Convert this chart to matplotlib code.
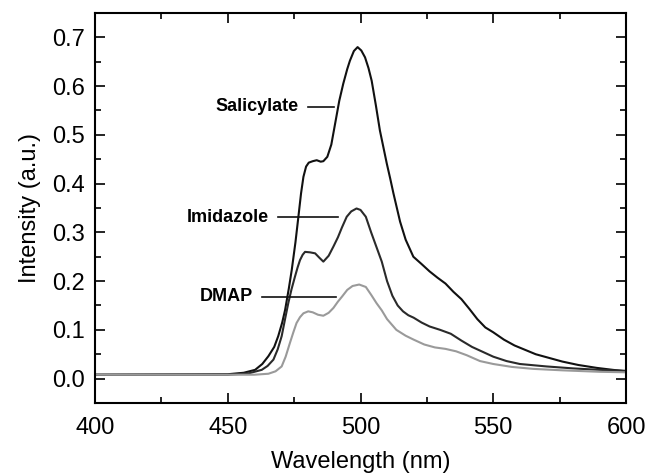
import numpy as np
import matplotlib
matplotlib.use('Agg')
import matplotlib.pyplot as plt
from matplotlib.ticker import MultipleLocator

plt.rcParams['font.family'] = ['Liberation Sans', 'DejaVu Sans']

# Salicylate spectrum
sal_x = [400, 450, 456, 460.3, 463, 465.3, 467.5, 469, 470.5, 471.6, 473, 474.1, 475.5, 476.6,
         477.6, 478.5, 479.5, 480.5, 482, 483.5, 485, 486, 487.5, 489, 490, 491, 492, 493.5,
         495, 496, 497.5, 498.9, 500.3, 501.7, 503, 504.2, 505.8, 507.3, 508.6, 509.9, 511.2,
         512.4, 514.9, 517, 519.9, 523, 526, 529, 532, 535, 538, 541, 544, 547, 550, 554, 558,
         562, 566, 570, 576, 582, 589, 595, 600]
sal_y = [0.008, 0.009, 0.012, 0.018, 0.030, 0.046, 0.065, 0.087, 0.115, 0.141, 0.185, 0.223,
         0.28, 0.332, 0.38, 0.414, 0.435, 0.443, 0.446, 0.448, 0.445, 0.446, 0.455, 0.48, 0.51,
         0.54, 0.57, 0.605, 0.635, 0.652, 0.672, 0.680, 0.673, 0.659, 0.637, 0.611, 0.56,
         0.509, 0.475, 0.441, 0.41, 0.380, 0.322, 0.285, 0.25, 0.235, 0.22, 0.207, 0.195, 0.178,
         0.163, 0.143, 0.122, 0.105, 0.095, 0.080, 0.068, 0.059, 0.050, 0.044, 0.035, 0.028,
         0.022, 0.018, 0.015]

# Imidazole spectrum
imi_x = [400, 450, 458, 462.8, 465, 467.2, 468.8, 470.3, 471.5, 472.8, 474, 475.3, 476.3, 477.2,
         478.2, 479.1, 481, 482.9, 484.5, 486, 488, 489.8, 491.5, 493, 494.8, 496.5, 498.5, 500,
         502, 504, 506, 508, 510, 512, 514, 516, 518, 520, 523, 526, 530, 534, 538, 542, 546,
         550, 555, 560, 570, 580, 590, 600]
imi_y = [0.008, 0.008, 0.011, 0.018, 0.026, 0.039, 0.06, 0.087, 0.12, 0.155, 0.183, 0.209, 0.228,
         0.243, 0.254, 0.26, 0.259, 0.257, 0.248, 0.240, 0.252, 0.271, 0.29, 0.31, 0.332, 0.343,
         0.349, 0.346, 0.332, 0.30, 0.27, 0.24, 0.20, 0.17, 0.15, 0.138, 0.13, 0.125, 0.115,
         0.107, 0.100, 0.092, 0.078, 0.065, 0.055, 0.045, 0.036, 0.030, 0.025, 0.021, 0.018,
         0.016]

# DMAP spectrum
dmap_x = [400, 460, 465.3, 468, 470.3, 471.8, 473.4, 474.7, 475.9, 477.2, 478.5, 480.3, 482, 484,
          486, 488, 489.8, 491.5, 493, 495, 497, 499.5, 502, 504, 506, 508, 510, 513.5, 517,
          520, 524, 528, 532, 536, 540, 545, 550, 557, 565, 576, 590, 600]
dmap_y = [0.008, 0.008, 0.010, 0.015, 0.025, 0.045, 0.073, 0.095, 0.114, 0.126, 0.134, 0.138,
          0.136, 0.131, 0.129, 0.135, 0.145, 0.158, 0.168, 0.182, 0.19, 0.193, 0.188, 0.172,
          0.155, 0.14, 0.122, 0.10, 0.088, 0.080, 0.070, 0.064, 0.061, 0.056, 0.048, 0.036,
          0.030, 0.024, 0.020, 0.017, 0.014, 0.013]

# labels: (text, text x, text y, line start x, line end x)
labels = ['Salicylate', 'Imidazole', 'DMAP']
label_x = [476.5, 465.5, 459.5]
label_y = [0.558, 0.331, 0.168]
line_x0 = [480.2, 468.9, 462.9]
line_x1 = [490.0, 491.5, 490.8]

fig = plt.figure(figsize=(6.49, 4.74), dpi=100)
ax = fig.add_axes([0.1464, 0.1498, 0.8182, 0.8228])

ax.plot(sal_x, sal_y, color='#111111', lw=1.5)
ax.plot(imi_x, imi_y, color='#2a2a2a', lw=1.5)
ax.plot(dmap_x, dmap_y, color='#9a9a9a', lw=1.5)

for t, tx, ty, x0, x1 in zip(labels, label_x, label_y, line_x0, line_x1):
    ax.text(tx, ty, t, ha='right', va='center', fontsize=13, fontweight='bold')
    ax.plot([x0, x1], [ty, ty], color='#111111', lw=1.2)

ax.set_xlim(400, 600)
ax.set_ylim(-0.05, 0.75)
ax.xaxis.set_major_locator(MultipleLocator(50))
ax.xaxis.set_minor_locator(MultipleLocator(25))
ax.yaxis.set_major_locator(MultipleLocator(0.1))
ax.yaxis.set_minor_locator(MultipleLocator(0.05))
ax.yaxis.set_major_formatter(plt.FormatStrFormatter('%.1f'))
ax.tick_params(which='both', direction='in', top=True, right=True, width=1.2,
               labelsize=17, pad=7)
ax.tick_params(axis='x', which='major', pad=10)
ax.tick_params(which='major', length=7)
ax.tick_params(which='minor', length=4)
for s in ax.spines.values():
    s.set_linewidth(1.5)

ax.set_xlabel('Wavelength (nm)', fontsize=17, labelpad=9)
ax.set_ylabel('Intensity (a.u.)', fontsize=17, labelpad=8)

plt.savefig('out.png', dpi=100)
